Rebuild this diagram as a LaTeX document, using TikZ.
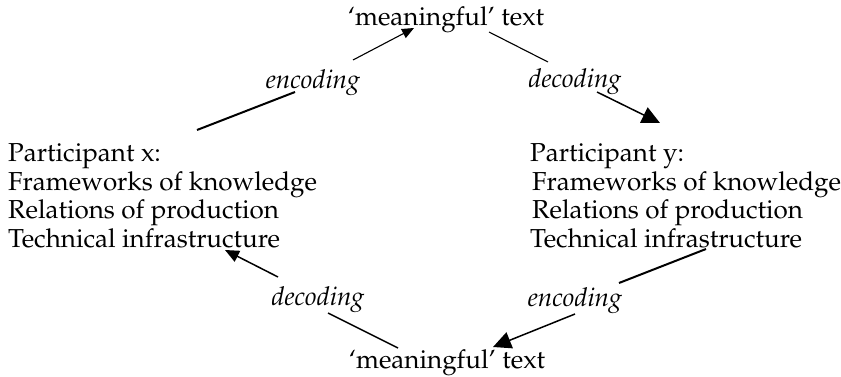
\documentclass[tikz,border=0pt]{standalone}
\usepackage[T1]{fontenc}
\usepackage{mathpazo}
\usetikzlibrary{arrows.meta}
\begin{document}
\begin{tikzpicture}[x=1pt,y=-1pt,
  txt/.style={inner sep=0pt, font=\fontsize{26}{29}\selectfont},
  lbl/.style={inner sep=0pt, font=\fontsize{26}{29}\selectfont\itshape},
  thinseg/.style={line width=1.1pt},
  midseg/.style={line width=1.5pt},
  thickseg/.style={line width=2pt},
  smallhead/.style={-{Triangle[length=12pt,width=10pt]}},
  midhead/.style={-{Triangle[length=14pt,width=12pt]}},
  bighead/.style={-{Triangle[length=18pt,width=17pt]}}]
\useasboundingbox (0,0) rectangle (841,377);

% messages
\node[txt,anchor=base] (msgtop) at (446,26) {`meaningful' text};
\node[txt,anchor=base] (msgbot) at (447,368) {`meaningful' text};

% participant x
\node[txt,anchor=base west] (x1) at (8,162) {Participant x:};
\node[txt,anchor=base west] (x2) at (8,190) {Frameworks of knowledge};
\node[txt,anchor=base west] (x3) at (8,218.5) {Relations of production};
\node[txt,anchor=base west] (x4) at (8,247) {Technical infrastructure};

% participant y
\node[txt,anchor=base west] (y1) at (530,162) {Participant y:};
\node[txt,anchor=base west] (y2) at (532,190) {Frameworks of knowledge};
\node[txt,anchor=base west] (y3) at (532,218.5) {Relations of production};
\node[txt,anchor=base west] (y4) at (530,247) {Technical infrastructure};

% process labels
\node[lbl,anchor=base] (enctop) at (313,89) {encoding};
\node[lbl,anchor=base] (dectop) at (575,88) {decoding};
\node[lbl,anchor=base] (decbot) at (318,305) {decoding};
\node[lbl,anchor=base] (encbot) at (575,306) {encoding};

% connector end points
\coordinate (a1) at (197,130);
\coordinate (a2) at (295,92);
\coordinate (a3) at (353,60);
\coordinate (a4) at (414,28);
\coordinate (b1) at (489,32);
\coordinate (b2) at (548,62);
\coordinate (b3) at (597,92);
\coordinate (b4) at (660,123);
\coordinate (c1) at (706,249);
\coordinate (c2) at (619,283);
\coordinate (c3) at (575,314);
\coordinate (c4) at (493,347);
\coordinate (d1) at (398,348);
\coordinate (d2) at (328,313);
\coordinate (d3) at (278,277);
\coordinate (d4) at (225,250);

% x encodes the top message
\draw[thickseg] (a1) -- (a2);
\draw[thinseg,smallhead] (a3) -- (a4);
% y decodes the top message
\draw[thinseg] (b1) -- (b2);
\draw[midseg,bighead] (b3) -- (b4);
% y encodes the bottom message
\draw[thickseg] (c1) -- (c2);
\draw[midseg,bighead] (c3) -- (c4);
% x decodes the bottom message
\draw[midseg] (d1) -- (d2);
\draw[midseg,midhead] (d3) -- (d4);
\end{tikzpicture}
\end{document}
